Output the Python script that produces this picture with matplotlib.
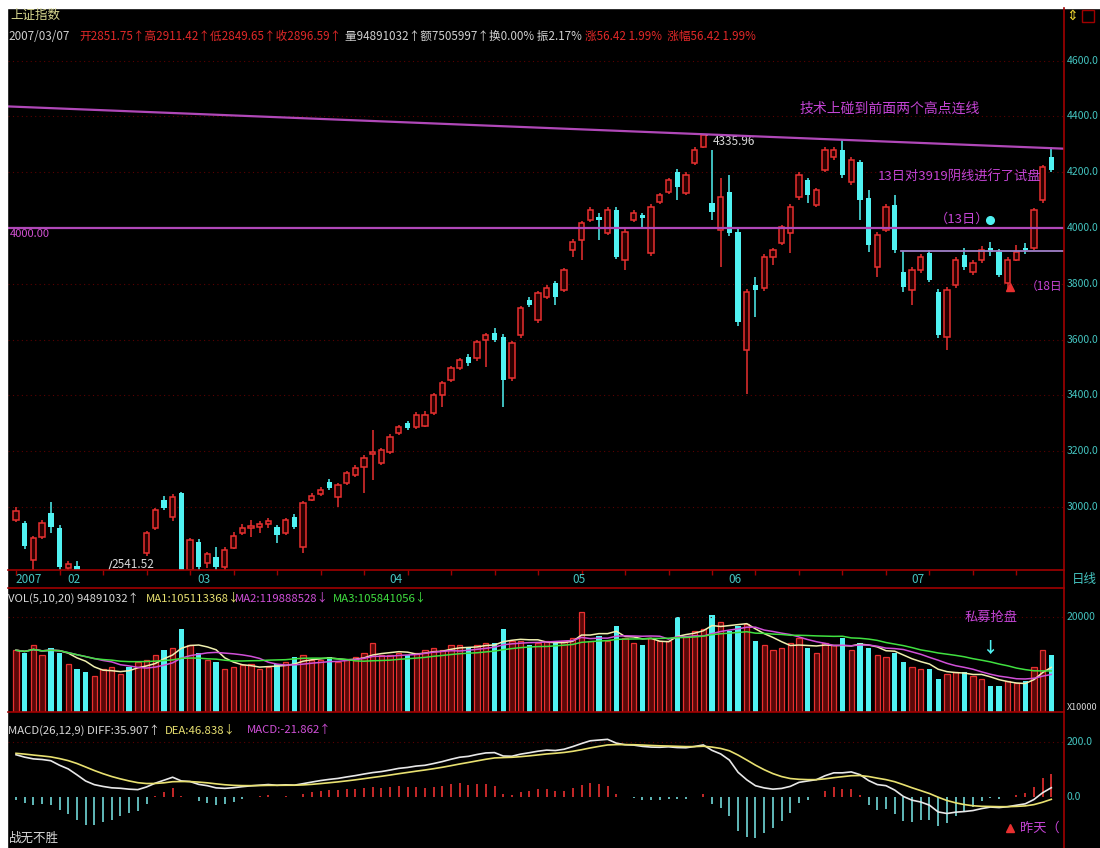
import numpy as np
import pandas as pd
import matplotlib
matplotlib.use('Agg')
from matplotlib import pyplot as plt
from matplotlib.patches import Rectangle

plt.rcParams['font.family'] = ['Noto Sans CJK SC', 'DejaVu Sans']

W, H = 1100, 848

# daily candles, index 0 = 2007-01-24
opens = [2955, 2943, 2810, 2892, 2978, 2925, 2780, 2790, 2660, 2600,
         2680, 2730, 2740, 2765, 2745, 2836, 2925, 3025, 2964, 3050,
         2774, 2875, 2800, 2821, 2785, 2851.75, 2907, 2925, 2930, 2940,
         2928, 2907, 2964, 2857, 3025, 3046, 3090, 3036, 3086, 3115,
         3143, 3190, 3158, 3197, 3265, 3301, 3287, 3290, 3337, 3401,
         3455, 3498, 3538, 3534, 3599, 3624, 3610, 3462, 3616, 3742,
         3670, 3753, 3803, 3778, 3921, 3957, 4029, 4040, 3982, 4064,
         3885, 4029, 4046, 3910, 4093, 4129, 4200, 4125, 4233, 4290,
         4090, 3993, 4129, 3986, 3563, 3796, 3785, 3896, 3946, 3982,
         4111, 4172, 4082, 4208, 4254, 4279, 4165, 4237, 4107, 3860,
         3993, 4082, 3842, 3778, 3849, 3910, 3770, 3609, 3796, 3903,
         3842, 3885, 3928, 3914, 3803, 3885, 3928, 3928, 4100, 4254]
highs = [3000, 2950, 2895, 2955, 3018, 2935, 2805, 2805, 2680, 2690,
         2745, 2755, 2772, 2772, 2772, 2915, 2998, 3040, 3045, 3055,
         2890, 2885, 2840, 2857, 2855, 2911.42, 2938, 2953, 2950, 2961,
         2935, 2960, 2975, 3020, 3050, 3070, 3100, 3085, 3130, 3150,
         3185, 3276, 3212, 3260, 3295, 3310, 3340, 3345, 3410, 3452,
         3505, 3535, 3548, 3598, 3625, 3640, 3620, 3595, 3720, 3752,
         3775, 3795, 3810, 3855, 3960, 4025, 4075, 4053, 4075, 4075,
         3995, 4064, 4055, 4085, 4125, 4180, 4210, 4200, 4290, 4335.96,
         4279, 4179, 4190, 3995, 3780, 3825, 3905, 3930, 4010, 4085,
         4200, 4180, 4145, 4290, 4290, 4316, 4255, 4245, 4136, 3985,
         4085, 4118, 3919, 3860, 3905, 3921, 3780, 3790, 3895, 3928,
         3885, 3935, 3950, 3925, 3895, 3940, 3945, 4070, 4225, 4290]
lows = [2945, 2850, 2760, 2885, 2907, 2775, 2760, 2660, 2590, 2541.52,
        2665, 2715, 2725, 2735, 2730, 2825, 2918, 2990, 2950, 2745,
        2760, 2775, 2780, 2775, 2775, 2849.65, 2900, 2893, 2907, 2925,
        2871, 2900, 2920, 2835, 3020, 3040, 3060, 3000, 3080, 3108,
        3050, 3097, 3150, 3190, 3258, 3275, 3280, 3285, 3330, 3358,
        3448, 3490, 3505, 3525, 3502, 3590, 3358, 3450, 3605, 3715,
        3660, 3745, 3724, 3770, 3896, 3885, 4020, 3957, 3975, 3890,
        3849, 4020, 4003, 3900, 4085, 4120, 4100, 4118, 4225, 4285,
        4029, 3860, 3970, 3650, 3404.15, 3681, 3775, 3867, 3940, 3910,
        4100, 4090, 4075, 4200, 4245, 4180, 4155, 4029, 3914, 3824,
        3985, 3910, 3770, 3724, 3840, 3805, 3605, 3563, 3785, 3850,
        3830, 3875, 3900, 3825, 3778, 3880, 3905, 3920, 4090, 4200]
closes = [2985, 2860, 2889, 2943, 2928, 2785, 2795, 2673, 2612, 2675,
          2730, 2737, 2770, 2750, 2765, 2907, 2989, 2996, 3036, 2771,
          2882, 2785, 2830, 2785, 2846, 2896.59, 2925, 2932, 2938, 2950,
          2900, 2953, 2928, 3014, 3040, 3060, 3068, 3079, 3122, 3140,
          3176, 3197, 3204, 3251, 3287, 3283, 3330, 3330, 3401, 3444,
          3498, 3527, 3516, 3591, 3616, 3599, 3455, 3588, 3713, 3724,
          3767, 3785, 3753, 3849, 3950, 4018, 4064, 4029, 4064, 3896,
          3986, 4054, 4036, 4075, 4118, 4172, 4147, 4190, 4280, 4333,
          4057, 4111, 3982, 3663, 3770, 3778, 3896, 3921, 4003, 4075,
          4190, 4118, 4136, 4279, 4279, 4190, 4244, 4100, 3939, 3975,
          4075, 3921, 3788, 3849, 3896, 3814, 3616, 3778, 3885, 3860,
          3874, 3921, 3915, 3831, 3885, 3914, 3921, 4064, 4219, 4208]
# volume, x10000
volumes = [13000, 12500, 14000, 12000, 13500, 12500, 10000, 9000, 8500, 7500,
           9000, 9500, 8000, 9500, 10500, 11000, 12000, 13000, 13500, 17500,
           14000, 12500, 11000, 10500, 9000, 9489, 9800, 10000, 9000, 9500,
           10000, 10500, 11500, 12000, 11000, 11000, 11500, 10500, 11000, 11500,
           12500, 14500, 12000, 12000, 12500, 12000, 12500, 13000, 13500, 13000,
           14000, 14000, 13500, 14000, 14500, 14500, 17500, 15000, 15000, 14000,
           14500, 15000, 14500, 15000, 15500, 21000, 15000, 16000, 15000, 18000,
           15500, 14500, 14000, 15500, 15000, 15000, 20000, 16000, 17000, 17500,
           20500, 19000, 17000, 18000, 18500, 15000, 14000, 13000, 13500, 14500,
           15500, 13500, 12500, 14500, 14000, 15500, 13000, 14500, 13500, 12000,
           11500, 12500, 10500, 9500, 9000, 9000, 7000, 8000, 8500, 8500,
           7500, 7000, 5500, 5500, 6500, 6000, 6500, 9500, 13000, 12000]

month_starts = [0, 6, 21, 43, 64, 82, 103]
month_labels = ['2007', '02', '03', '04', '05', '06', '07']
price_ticks = [3000, 3200, 3400, 3600, 3800, 4000, 4200, 4400, 4600]
CURSOR = 25          # 2007/03/07, the day shown in the header
PEAK1, PEAK2 = 79, 95  # highs joined by the trend line
TEST_DAY = 102       # day whose high forms the short resistance line
# MACD state before the first visible day (read off the left edge)
EMA12_SEED, EMA26_SEED, DEA_SEED = 2800, 2650, 160

RED = '#e83030'
CYAN = '#50f2f2'
TEAL = '#44c4c0'
PURPLE = '#b048b8'
MAGENTA = '#c444d4'
GRID = '#5a0000'
FRAME = '#a00000'

o = np.array(opens, float)
hi = np.array(highs, float)
lo = np.array(lows, float)
c = np.array(closes, float)
vol = np.array(volumes, float)
idx = np.arange(len(c))
up = c >= o

fig = plt.figure(figsize=(W / 100, H / 100), dpi=100, facecolor='black')


def box(x0, y0, x1, y1):
    return [x0 / W, 1 - y1 / H, (x1 - x0) / W, (y1 - y0) / H]


def ftext(x, y, s, color, size=8.5, **kw):
    fig.text(x / W, 1 - y / H, s, color=color, fontsize=size,
             va='center', ha='left', **kw)


L, R = 8, 1064
XMIN, XMAX = -0.92, 120.46
ax = fig.add_axes(box(L, 8, R, 570))
axd = fig.add_axes(box(L, 570, R, 588))
axv = fig.add_axes(box(L, 588, R, 712))
axm = fig.add_axes(box(L, 712, R, 848))
for a in (ax, axd, axv, axm):
    a.set_facecolor('black')
    a.set_xlim(XMIN, XMAX)
    a.set_xticks([])
    a.set_yticks([])
    for s in a.spines.values():
        s.set_visible(False)

# ---- price panel ----
ax.set_ylim(2774.2, 4788.4)
ax.hlines(price_ticks, XMIN, XMAX, color=GRID, lw=0.8, linestyles=(0, (1, 3)))

body_lo = np.minimum(o, c)
body_hi = np.maximum(o, c)
body_h = np.maximum(body_hi - body_lo, 3)
ax.vlines(idx[up], lo[up], body_lo[up], color=RED, lw=1.1, zorder=2)
ax.vlines(idx[up], body_hi[up], hi[up], color=RED, lw=1.1, zorder=2)
ax.bar(idx[up], body_h[up], bottom=body_lo[up], width=0.62,
       facecolor='#2a0000', edgecolor=RED, lw=1.1, zorder=3)
ax.vlines(idx[~up], lo[~up], hi[~up], color=CYAN, lw=1.1, zorder=2)
ax.bar(idx[~up], body_h[~up], bottom=body_lo[~up], width=0.62,
       color=CYAN, zorder=3)

# trend line through the two highs
slope = (hi[PEAK2] - hi[PEAK1]) / (PEAK2 - PEAK1)
tx = np.array([XMIN, XMAX])
ax.plot(tx, hi[PEAK1] + slope * (tx - PEAK1), color=PURPLE, lw=1.6, zorder=4)
ax.axhline(4000, color=PURPLE, lw=1.6, zorder=4)
ax.plot([TEST_DAY - 0.3, XMAX], [hi[TEST_DAY], hi[TEST_DAY]], color='#a080c8', lw=1.3, zorder=4)

ax.annotate('%.2f' % hi[PEAK1], xy=(PEAK1, hi[PEAK1]), xytext=(PEAK1 + 1.1, hi[PEAK1] - 25),
            color='#d8d8d8', fontsize=8.5, va='center',
            arrowprops=dict(arrowstyle='-', color='#d8d8d8', lw=0.8))
low_day = int(np.argmin(lo))
ax.text(low_day + 2, 2795, '%.2f' % lo[low_day], color='#d8d8d8', fontsize=8.5, va='center')
ax.plot([low_day + 1.7, low_day + 2.0], [2776, 2805], color='#d8d8d8', lw=0.8)

for p in price_ticks:
    ax.text(1.0025, p, '%d.0' % p, transform=ax.get_yaxis_transform(),
            color=TEAL, fontsize=7.5, va='center', clip_on=False)
ax.text(0.002, 3978, '4000.00', transform=ax.get_yaxis_transform(),
        color='#d050d0', fontsize=8, va='center')

ax.text(0.75, 4428, '技术上碰到前面两个高点连线', transform=ax.get_yaxis_transform(),
        color=MAGENTA, fontsize=10, va='center')
ax.text(0.824, 4180, '13日对3919阴线进行了试盘', transform=ax.get_yaxis_transform(),
        color=MAGENTA, fontsize=9.5, va='center')
ax.text(0.878, 4032, '（13日）', transform=ax.get_yaxis_transform(),
        color=MAGENTA, fontsize=9.5, va='center')
ax.plot(112, 4030, marker='o', color=CYAN, ms=5.5, zorder=5)
ax.plot(114.3, 3790, marker='^', color=RED, ms=6, zorder=5)
ax.text(0.964, 3790, '（18日', transform=ax.get_yaxis_transform(),
        color=MAGENTA, fontsize=8.5, va='center')

# ---- date strip ----
axd.set_ylim(0, 1)
axd.vlines(np.arange(0, len(c), 5), 0.72, 1.0, color=FRAME, lw=1)
for m, lab in zip(month_starts, month_labels):
    axd.text(m - 0.1, 0.45, lab, color=TEAL, fontsize=8.5, va='center', ha='left')

# ---- volume panel ----
axv.set_ylim(0, 26105)
axv.hlines([20000], XMIN, XMAX, color=GRID, lw=0.8, linestyles=(0, (1, 3)))
axv.bar(idx[up], vol[up], width=0.62, facecolor='#5a0808', edgecolor=RED, lw=0.9)
axv.bar(idx[~up], vol[~up], width=0.62, color=CYAN)
vs = pd.Series(vol)
axv.plot(idx, vs.rolling(5, min_periods=1).mean(), color='#f0f0b0', lw=1.1)
axv.plot(idx, vs.rolling(10, min_periods=1).mean(), color='#d050d8', lw=1.1)
axv.plot(idx, vs.rolling(20, min_periods=1).mean(), color='#40e040', lw=1.1)
axv.text(1.0025, 20000, '20000', transform=axv.get_yaxis_transform(),
         color=TEAL, fontsize=7.5, va='center', clip_on=False)
axv.text(1.0025, 900, 'X10000', transform=axv.get_yaxis_transform(),
         color='#d8d8d8', fontsize=6.5, va='center', clip_on=False)
axv.text(0.906, 20000, '私募抢盘', transform=axv.get_yaxis_transform(),
         color=MAGENTA, fontsize=9.5, va='center')
axv.text(112, 13470, '↓', color=CYAN, fontsize=11, ha='center', va='center', fontweight='bold')

# ---- MACD panel ----
def ema(vals, n, seed):
    k = 2 / (n + 1)
    out = []
    e = seed
    for v in vals:
        e = e + k * (v - e)
        out.append(e)
    return np.array(out)


diff = ema(c, 12, EMA12_SEED) - ema(c, 26, EMA26_SEED)
dea = ema(diff, 9, DEA_SEED)
macd = 2 * (diff - dea)
axm.set_ylim(-185.5, 309)
axm.hlines([200], XMIN, XMAX, color=GRID, lw=0.8, linestyles=(0, (1, 3)))
pos = macd >= 0
axm.vlines(idx[pos], 0, macd[pos], color=RED, lw=1.2)
axm.vlines(idx[~pos], 0, macd[~pos], color='#70d8d8', lw=1.2)
axm.plot(idx, diff, color='#e8e8e8', lw=1.2)
axm.plot(idx, dea, color='#e8e070', lw=1.2)
for v, lab in [(200, '200.0'), (0, '0.0')]:
    axm.text(1.0025, v, lab, transform=axm.get_yaxis_transform(),
             color=TEAL, fontsize=7.5, va='center', clip_on=False)
axm.plot(114.3, -112, marker='^', color=RED, ms=6)
axm.text(0.958, -112, '昨天（', transform=axm.get_yaxis_transform(),
         color=MAGENTA, fontsize=9.5, va='center')

# ---- frame lines ----
for y in (570, 588, 712):
    fig.add_artist(plt.Line2D([L / W, R / W], [1 - y / H] * 2, color=FRAME, lw=1.2))
fig.add_artist(plt.Line2D([R / W, R / W], [0, 1 - 8 / H], color=FRAME, lw=1.2))
fig.add_artist(Rectangle((0, 1 - 8 / H), 1, 8 / H, transform=fig.transFigure, color='white'))
fig.add_artist(Rectangle((0, 0), 7 / W, 1, transform=fig.transFigure, color='white'))

# ---- header texts ----
ftext(10, 15, '上证指数', '#d8d890', 9)
ftext(1066, 16, '⇕', '#e8d030', 10)
fig.add_artist(Rectangle((1082 / W, 1 - 22 / H), 12 / W, 12 / H, transform=fig.transFigure,
                         facecolor='none', edgecolor=FRAME, lw=1))
ftext(8, 36, '2007/03/07', '#cfcfcf', 8.4)
ftext(79, 36, '开%.2f↑高%.2f↑低%.2f↑收%.2f↑' % (opens[CURSOR], highs[CURSOR], lows[CURSOR], closes[CURSOR]),
      '#e02828', 8.4)
ftext(345, 36, '量94891032↑额7505997↑换0.00% 振2.17%', '#d0d0d0', 8.4)
ftext(585, 36, '涨56.42 1.99%  涨幅56.42 1.99%', '#e02828', 8.4)
ftext(1072, 579, '日线', TEAL, 9)

ftext(8, 598, 'VOL(5,10,20) 94891032↑', '#d8d8d8', 8.2)
ftext(146, 598, 'MA1:105113368↓', '#e8e070', 8.2)
ftext(235, 598, 'MA2:119888528↓', '#d050d8', 8.2)
ftext(333, 598, 'MA3:105841056↓', '#40e040', 8.2)

ftext(8, 730, 'MACD(26,12,9) DIFF:35.907↑', '#d8d8d8', 8.2)
ftext(165, 730, 'DEA:46.838↓', '#e8e070', 8.2)
ftext(247, 730, 'MACD:-21.862↑', '#d050d8', 8.2)

ftext(9, 838, '战无不胜', '#d8d8d8', 9)

fig.savefig('out.png', dpi=100, facecolor='black')
